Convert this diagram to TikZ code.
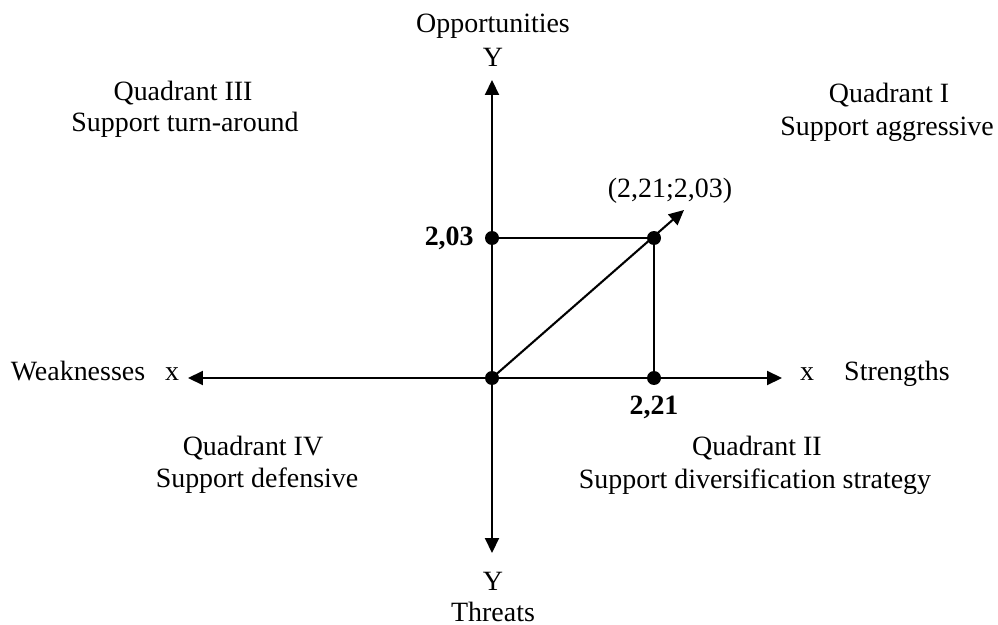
\documentclass[tikz,border=0pt]{standalone}
\usepackage{fontspec}
\setmainfont{Liberation Serif}
\usetikzlibrary{arrows.meta}
\tikzset{
  swot axis/.style={draw=black, line width=1.2pt, -{Triangle[length=3mm, width=2.8mm]}},
  swot guide/.style={draw=black, line width=0.9pt},
  swot dot/.style={circle, fill=black, minimum size=2.8mm, inner sep=0pt},
  swot label/.style={font=\fontsize{15.9}{19}\selectfont, anchor=base, inner sep=0pt},
  swot value/.style={swot label, font=\fontsize{15.9}{19}\selectfont\bfseries},
}
\begin{document}
\begin{tikzpicture}[x=0.02cm, y=-0.02cm]
  \useasboundingbox (0,0) rectangle (998,625);

  % Axis ends and the point (2,21;2,03)
  \node[swot dot] (o) at (492,378) {};
  \node[swot dot] (py) at (492,238) {};
  \node[swot dot] (px) at (654,378) {};
  \node[swot dot] (p) at (654,238) {};
  \coordinate (ytop) at (492,80);
  \coordinate (ybot) at (492,553);
  \coordinate (xleft) at (188,378);
  \coordinate (xright) at (782,378);
  \coordinate (ptip) at (684,210);

  % Axes
  \draw[swot axis] (o.center) -- (ytop);
  \draw[swot axis] (o.center) -- (ybot);
  \draw[swot axis] (o.center) -- (xleft);
  \draw[swot axis] (o.center) -- (xright);

  % Guides and the vector
  \draw[swot guide] (py.center) -- (p.center) -- (px.center);
  \draw[swot axis] (o.center) -- (ptip);

  % Axis labels
  \node[swot label] (opp) at (493,33) {Opportunities};
  \node[swot label] (ytxt) at (493,67) {Y};
  \node[swot label] (ybtxt) at (493,590) {Y};
  \node[swot label] (thr) at (493,621) {Threats};
  \node[swot label] (xl) at (172,380) {x};
  \node[swot label] (weak) at (78,380) {Weaknesses};
  \node[swot label] (xr) at (807,380) {x};
  \node[swot label] (str) at (897,380) {Strengths};

  % Values
  \node[swot value, anchor=base east] (vy) at (474,245) {2,03};
  \node[swot value] (vx) at (654,414) {2,21};
  \node[swot label] (vp) at (670,197) {(2,21;2,03)};

  % Quadrants
  \node[swot label] (q3) at (183,101) {Quadrant III};
  \node[swot label] (q3s) at (185,132) {Support turn-around};
  \node[swot label] (q1) at (889,103) {Quadrant I};
  \node[swot label] (q1s) at (887,135) {Support aggressive};
  \node[swot label] (q4) at (253,455) {Quadrant IV};
  \node[swot label] (q4s) at (257,487) {Support defensive};
  \node[swot label] (q2) at (757,455) {Quadrant II};
  \node[swot label] (q2s) at (755,488) {Support diversification strategy};
\end{tikzpicture}
\end{document}
